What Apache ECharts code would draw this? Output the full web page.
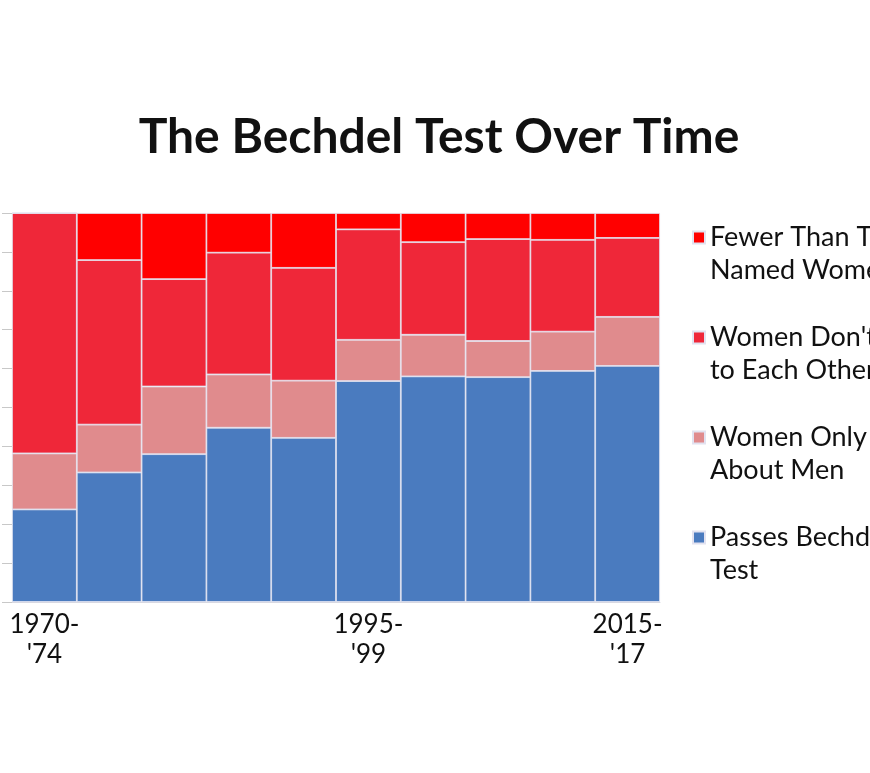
<!DOCTYPE html>
<html>
<head>
<meta charset="utf-8">
<script src="https://cdn.jsdelivr.net/npm/echarts@6/dist/echarts.min.js"></script>
<style>
html,body{margin:0;padding:0;background:#fff;}
#chart{width:870px;height:773px;}
</style>
</head>
<body>
<div id="chart"></div>
<script>
var categories = ["1970-\n'74", "1975-\n'79", "1980-\n'84", "1985-\n'89", "1990-\n'94", "1995-\n'99", "2000-\n'04", "2005-\n'09", "2010-\n'14", "2015-\n'17"];
var shownLabels = [0, 5, 9];
var passes       = [23.8, 33.3, 38.0, 44.8, 42.2, 56.8, 58.0, 57.8, 59.4, 60.7];
var onlyAboutMen = [14.4, 12.3, 17.4, 13.7, 14.7, 10.6, 10.7, 9.3, 10.1, 12.6];
var dontTalk     = [61.8, 42.3, 27.6, 31.3, 29.0, 28.4, 23.8, 26.2, 23.6, 20.3];
var fewerThanTwo = [0.0, 12.1, 17.0, 10.2, 14.1, 4.2, 7.5, 6.7, 6.9, 6.4];
var seriesNames = ["Passes Bechdel\nTest", "Women Only Talk\nAbout Men", "Women Don't Talk\nto Each Other", "Fewer Than Two\nNamed Women"];
var legendOrder = [3, 2, 1, 0];

var colors = ['#4a7bbf', '#e08b8d', '#ef2739', '#ff0000'];
var dataSets = [passes, onlyAboutMen, dontTalk, fewerThanTwo];

var chart = echarts.init(document.getElementById('chart'), null, {renderer: 'canvas'});
var FONT = 'Lato, "Open Sans", sans-serif';

var series = dataSets.map(function (d, i) {
  return {
    name: seriesNames[i],
    type: 'bar',
    stack: 'total',
    data: d,
    barCategoryGap: '0%',
    itemStyle: {color: colors[i], borderColor: '#e2e2f0', borderWidth: 0.8},
    emphasis: {disabled: true}
  };
});

chart.setOption({
  animation: false,
  backgroundColor: '#ffffff',
  title: {
    text: 'The Bechdel Test Over Time',
    left: 434,
    textAlign: 'center',
    top: 109,
    textStyle: {fontFamily: FONT, fontWeight: 'bold', fontSize: 48, color: '#111111'}
  },
  legend: {
    orient: 'vertical',
    left: 687,
    top: 183,
    padding: 5,
    itemWidth: 12,
    itemHeight: 12,
    itemGap: 1,
    icon: 'rect',
    data: legendOrder.map(function (i) { return seriesNames[i]; }),
    formatter: function (name) { return ' \n' + name; },
    textStyle: {fontFamily: FONT, fontSize: 27, color: '#111111', lineHeight: 33}
  },
  grid: {left: 12, right: 210, top: 213, bottom: 171, containLabel: false},
  xAxis: {
    type: 'category',
    data: categories,
    axisLine: {show: true, lineStyle: {color: '#d8d8e0'}},
    axisTick: {show: false},
    axisLabel: {
      interval: function (idx) { return shownLabels.indexOf(idx) >= 0; },
      fontFamily: FONT, fontSize: 26, color: '#111111', lineHeight: 30, margin: 8
    }
  },
  yAxis: {
    type: 'value',
    min: 0,
    max: 100,
    interval: 10,
    axisLine: {show: false},
    axisTick: {show: true, length: 10, lineStyle: {color: '#c8c8c8'}},
    axisLabel: {show: false},
    splitLine: {show: false}
  },
  series: series
});
</script>
</body>
</html>
